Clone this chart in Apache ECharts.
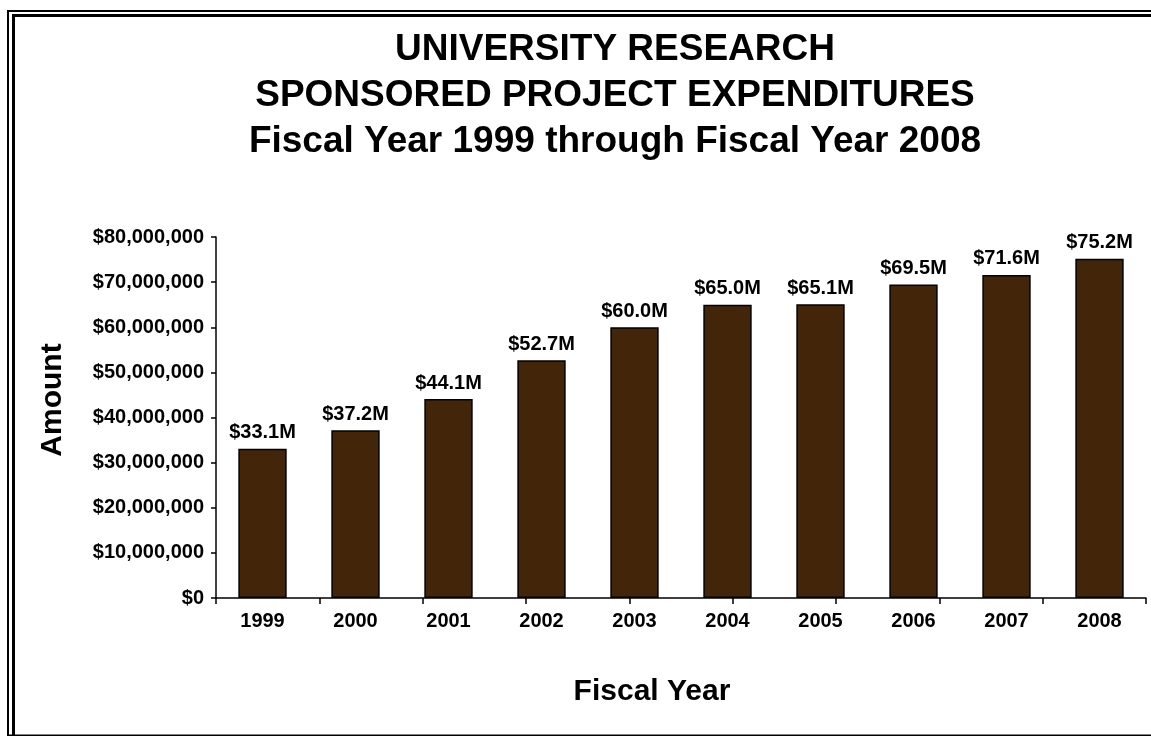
<!DOCTYPE html>
<html>
<head>
<meta charset="utf-8">
<title>University Research Sponsored Project Expenditures</title>
<script src="https://cdn.jsdelivr.net/npm/echarts@6/dist/echarts.min.js"></script>
<style>
  html, body { margin: 0; padding: 0; background: #ffffff; }
  #chart { width: 1151px; height: 736px; }
</style>
</head>
<body>
<div id="chart"></div>
<script>
// Fiscal years shown on the category axis
const fiscalYears = ['1999', '2000', '2001', '2002', '2003', '2004', '2005', '2006', '2007', '2008'];
// Sponsored project expenditures, in dollars
const expenditures = [33100000, 37200000, 44100000, 52700000, 60000000, 65000000, 65100000, 69500000, 71600000, 75200000];
// Value axis range and step
const axisMin = 0;
const axisMax = 80000000;
const axisStep = 10000000;
// Separator marks along the year axis
const separatorSlots = ['', '', '', '', '', '', '', '', ''];

const titleLines = [
  'UNIVERSITY RESEARCH',
  'SPONSORED PROJECT EXPENDITURES',
  'Fiscal Year 1999 through Fiscal Year 2008'
];

const FONT = '"Liberation Sans", Arial, Helvetica, sans-serif';

const chart = echarts.init(document.getElementById('chart'), null, { renderer: 'canvas' });

const money = v => '$' + Math.round(v).toLocaleString('en-US');
const millions = v => '$' + (v / 1e6).toFixed(1) + 'M';

chart.setOption({
  backgroundColor: '#ffffff',
  animation: false,
  textStyle: { fontFamily: FONT },
  title: {
    text: titleLines.join('\n'),
    left: 615,
    top: 27,
    textAlign: 'center',
    padding: 0,
    textStyle: {
      fontFamily: FONT,
      fontWeight: 'bold',
      fontSize: 37,
      lineHeight: 46,
      color: '#000000'
    }
  },
  grid: { left: 216, top: 237, width: 930, height: 361, containLabel: false },
  xAxis: [
    {
      type: 'category',
      data: fiscalYears,
      axisLine: { lineStyle: { color: '#000000', width: 1.5 } },
      axisTick: { show: false },
      axisLabel: {
        color: '#000000',
        fontFamily: FONT,
        fontWeight: 'bold',
        fontSize: 20,
        margin: 13
      }
    },
    {
      type: 'category',
      data: separatorSlots,
      position: 'bottom',
      axisLine: { show: false },
      axisTick: { show: true, length: 6, lineStyle: { color: '#000000', width: 1.5 } },
      axisLabel: { show: false },
      splitLine: { show: false }
    }
  ],
  yAxis: {
    type: 'value',
    min: axisMin,
    max: axisMax,
    interval: axisStep,
    axisLine: { show: true, lineStyle: { color: '#000000', width: 1.5 } },
    axisTick: { show: true, length: 5, lineStyle: { color: '#000000', width: 1.5 } },
    splitLine: { show: false },
    axisLabel: {
      formatter: money,
      color: '#000000',
      fontFamily: FONT,
      fontWeight: 'bold',
      fontSize: 20,
      margin: 12
    }
  },
  series: [
    {
      type: 'bar',
      xAxisIndex: 0,
      data: expenditures,
      barWidth: '52%',
      itemStyle: { color: '#43260a', borderColor: '#000000', borderWidth: 1.5 },
      label: {
        show: true,
        position: 'top',
        distance: 6,
        formatter: p => millions(p.value),
        color: '#000000',
        fontFamily: FONT,
        fontWeight: 'bold',
        fontSize: 20
      }
    }
  ],
  graphic: [
    // double frame around the page
    {
      type: 'rect', silent: true,
      shape: { x: 8, y: 11, width: 1300, height: 724.5 },
      style: { fill: null, stroke: '#000000', lineWidth: 2 }
    },
    {
      type: 'rect', silent: true,
      shape: { x: 13.5, y: 15.5, width: 1300, height: 900 },
      style: { fill: null, stroke: '#000000', lineWidth: 3 }
    },
    // axis titles
    {
      type: 'text', silent: true,
      x: 53, y: 400, rotation: Math.PI / 2,
      style: {
        text: 'Amount', fontFamily: FONT, fontWeight: 'bold', fontSize: 30,
        fill: '#000000', align: 'center', verticalAlign: 'middle'
      }
    },
    {
      type: 'text', silent: true,
      x: 652, y: 692,
      style: {
        text: 'Fiscal Year', fontFamily: FONT, fontWeight: 'bold', fontSize: 30,
        fill: '#000000', align: 'center', verticalAlign: 'middle'
      }
    }
  ]
});
</script>
</body>
</html>
